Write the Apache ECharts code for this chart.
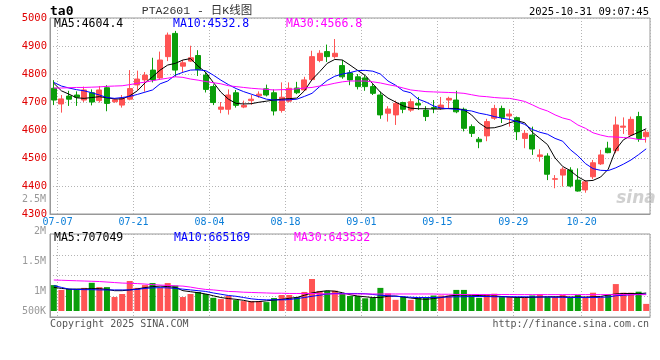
<!DOCTYPE html>
<html><head><meta charset="utf-8">
<script src="https://cdn.jsdelivr.net/npm/echarts@6/dist/echarts.min.js"></script>
<style>html,body{margin:0;padding:0;background:#fff}#c{width:660px;height:360px}</style>
</head><body><div id="c"></div>
<script>
const dates = ['07-07','07-08','07-09','07-10','07-11','07-14','07-15','07-16','07-17','07-18',
'07-21','07-22','07-23','07-24','07-25','07-28','07-29','07-30','07-31','08-01',
'08-04','08-05','08-06','08-07','08-08','08-11','08-12','08-13','08-14','08-15',
'08-18','08-19','08-20','08-21','08-22','08-25','08-26','08-27','08-28','08-29',
'09-01','09-02','09-03','09-04','09-05','09-08','09-09','09-10','09-11','09-12',
'09-15','09-16','09-17','09-18','09-19','09-22','09-23','09-24','09-25','09-26',
'09-29','09-30','10-09','10-10','10-13','10-14','10-15','10-16','10-17','10-20',
'10-21','10-22','10-23','10-24','10-27','10-28','10-29','10-30','10-31'];
const labeledDates = ['07-07','07-21','08-04','08-18','09-01','09-15','09-29','10-20'];

const opens = [4749,4693,4721,4725,4707,4733,4705,4751,4701,4689,
4710,4761,4779,4814,4786,4862,4945,4828,4846,4866,
4796,4755,4674,4674,4733,4682,4705,4722,4747,4733,
4670,4703,4750,4743,4780,4848,4880,4862,4830,4804,
4790,4786,4755,4725,4660,4654,4698,4671,4695,4671,
4680,4677,4707,4707,4674,4612,4567,4579,4642,4677,
4650,4644,4570,4582,4505,4507,4424,4439,4457,4421,
4386,4433,4479,4535,4526,4610,4582,4648,4576];
const closes = [4707,4711,4710,4717,4743,4700,4743,4695,4708,4713,
4748,4782,4796,4779,4850,4939,4814,4840,4858,4815,
4745,4698,4682,4725,4688,4688,4710,4728,4725,4668,
4717,4749,4733,4779,4862,4874,4862,4874,4790,4779,
4755,4755,4731,4654,4675,4695,4674,4701,4689,4648,
4677,4689,4713,4665,4606,4588,4558,4630,4677,4645,
4657,4594,4588,4532,4511,4442,4426,4460,4400,4382,
4415,4483,4511,4519,4618,4614,4638,4570,4592];
const lows = [4689,4662,4686,4686,4700,4688,4698,4667,4697,4680,
4706,4743,4737,4770,4780,4846,4790,4807,4843,4793,
4734,4689,4660,4655,4680,4678,4690,4715,4720,4652,
4662,4698,4728,4740,4776,4842,4843,4855,4783,4760,
4745,4740,4725,4640,4630,4618,4660,4665,4672,4632,
4660,4672,4677,4660,4595,4575,4535,4560,4636,4625,
4612,4564,4535,4511,4487,4421,4392,4398,4395,4380,
4376,4425,4475,4517,4517,4586,4579,4558,4555];
const highs = [4778,4725,4740,4738,4755,4745,4757,4760,4714,4725,
4814,4812,4807,4858,4880,4948,4954,4850,4901,4885,
4808,4763,4700,4745,4743,4705,4725,4738,4762,4745,
4770,4770,4772,4790,4883,4885,4905,4925,4850,4814,
4800,4795,4765,4737,4685,4705,4701,4712,4718,4685,
4707,4718,4719,4740,4680,4620,4575,4640,4690,4687,
4674,4648,4600,4612,4531,4517,4439,4467,4467,4463,
4421,4493,4529,4558,4648,4645,4648,4665,4600];

const ma5 = [4767,4740,4728,4715,4713,4716,4719,4715,4711,4711,
4722,4740,4768,4790,4814,4832,4838,4850,4855,4828,
4806,4770,4735,4710,4695,4693,4694,4699,4703,4707,
4710,4712,4714,4740,4780,4808,4838,4852,4850,4832,
4813,4795,4765,4735,4714,4700,4686,4678,4676,4676,
4675,4675,4677,4677,4672,4654,4625,4607,4608,4615,
4626,4633,4626,4592,4570,4548,4500,4470,4455,4433,
4418,4420,4432,4460,4530,4565,4580,4592,4604.4];
const ma10 = [4770,4757,4750,4744,4740,4733,4725,4716,4713,4716,
4720,4727,4735,4743,4765,4775,4796,4806,4814,4815,
4812,4796,4778,4762,4748,4737,4728,4719,4710,4707,
4707,4708,4710,4720,4731,4755,4777,4792,4800,4805,
4812,4813,4810,4800,4775,4760,4740,4733,4710,4700,
4686,4678,4676,4674,4671,4668,4660,4655,4648,4642,
4638,4630,4620,4602,4592,4585,4570,4560,4530,4508,
4480,4462,4456,4455,4465,4478,4493,4512,4532.8];
const ma30 = [4750,4750,4751,4752,4752,4753,4754,4756,4757,4758,
4762,4767,4771,4776,4781,4785,4790,4788,4782,4778,
4773,4769,4765,4758,4755,4752,4749,4747,4745,4743,
4744,4745,4747,4750,4752,4757,4761,4767,4772,4775,
4775,4775,4772,4768,4762,4757,4750,4743,4740,4737,
4736,4735,4734,4733,4731,4726,4721,4719,4716,4714,
4713,4708,4702,4690,4677,4668,4654,4643,4636,4618,
4606,4590,4582,4576,4575,4573,4571,4566,4566.8];

const volumes = [1020000,830000,870000,870000,910000,1110000,940000,940000,550000,670000,
1180000,910000,1020000,1100000,910000,1100000,1000000,550000,670000,750000,
670000,520000,470000,600000,430000,390000,390000,390000,350000,510000,
630000,630000,550000,750000,1260000,790000,790000,800000,670000,590000,
590000,500000,520000,910000,690000,440000,560000,440000,520000,520000,
610000,610000,610000,830000,830000,610000,520000,660000,680000,550000,
550000,530000,530000,610000,660000,550000,550000,630000,540000,630000,
540000,720000,540000,630000,1060000,720000,720000,760000,280000];
const volMa5 = [930000,890000,860000,860000,870000,880000,880000,850000,800000,800000,
830000,870000,920000,960000,980000,960000,930000,800000,760000,720000,
670000,600000,530000,490000,460000,420000,360000,370000,400000,430000,
460000,500000,530000,620000,710000,760000,800000,780000,720000,640000,
590000,560000,530000,530000,580000,590000,550000,510000,480000,460000,
490000,530000,590000,620000,630000,620000,610000,590000,590000,570000,
550000,530000,530000,540000,550000,560000,560000,560000,550000,550000,
550000,560000,570000,630000,670000,690000,690000,680000,707049];
const volMa10 = [1000000,930000,860000,850000,840000,840000,830000,830000,830000,830000,
830000,850000,890000,910000,920000,910000,890000,860000,830000,800000,
770000,710000,660000,610000,580000,530000,480000,450000,440000,440000,
440000,450000,490000,530000,580000,620000,670000,690000,690000,690000,
690000,680000,650000,620000,600000,580000,560000,540000,530000,530000,
530000,540000,550000,560000,560000,570000,570000,570000,560000,560000,
560000,560000,560000,550000,550000,550000,540000,540000,530000,530000,
530000,530000,540000,550000,600000,620000,640000,650000,665169];
const volMa30 = [1220000,1210000,1200000,1190000,1180000,1170000,1160000,1140000,1120000,1100000,
1090000,1080000,1060000,1040000,1020000,1010000,990000,980000,940000,890000,
850000,830000,800000,770000,760000,740000,730000,720000,710000,700000,
700000,690000,690000,690000,690000,680000,670000,670000,670000,670000,
670000,670000,670000,670000,670000,670000,670000,670000,670000,670000,
670000,660000,660000,650000,650000,650000,650000,650000,650000,650000,
650000,645000,645000,645000,645000,645000,645000,645000,645000,645000,
645000,645000,645000,645000,645000,645000,644000,644000,643532];

const priceMin = 4300, priceMax = 5000, priceStep = 100;
const volTickValues = [500000,1000000,1500000,2000000,2500000];
const volTickLabels = ['500K','1M','1.5M','2M','2.5M'];
const titleText = 'PTA2601 - 日K线图';
const stampText = '2025-10-31 09:07:45';

const MONO = '"DejaVu Sans Mono", "Liberation Mono", monospace';
const UP = '#ff5454', DOWN = '#0a9e0a';
const GRIDC = '#b4b4b4', AXC = '#999';

const labeledIdx = labeledDates.map(d => dates.indexOf(d));
const last = a => a[a.length - 1];

const chart = echarts.init(document.getElementById('c'), null, {renderer: 'canvas'});
const dotted = {color: GRIDC, type: [1, 2], width: 1};
const volOffsets = {'500K': 0, '1M': 8, '1.5M': 6, '2M': 4, '2.5M': 0};
const richBase = {color: '#999', fontFamily: MONO, fontSize: 10};

function txt(x, y, text, color, size, align, extra) {
  return {
    type: 'text', x: x, y: y, silent: true, z: 100,
    style: Object.assign({text: text, fill: color, font: size + 'px ' + MONO,
      align: align || 'left', verticalAlign: 'middle',
      textAlign: align || 'left', textVerticalAlign: 'middle'}, extra || {})
  };
}

chart.setOption({
  animation: false,
  backgroundColor: '#fff',
  grid: [
    {left: 50, right: 10, top: 18, height: 196, show: true, borderColor: AXC, borderWidth: 1},
    {left: 50, right: 10, top: 234, height: 83, show: true, borderColor: AXC, borderWidth: 1},
    {left: 50, right: 10, top: 199, height: 112, show: false}
  ],
  xAxis: [
    {type: 'category', gridIndex: 0, data: dates, boundaryGap: true,
     axisLine: {show: true, onZero: false, lineStyle: {color: AXC}}, axisTick: {show: false},
     axisLabel: {interval: (i, v) => labeledDates.indexOf(v) >= 0, color: '#0b7ed8',
       fontFamily: MONO, fontSize: 10, margin: 3, padding: [0, 0, 0, 7.6]},
     splitLine: {show: true, interval: (i) => labeledIdx.indexOf(i - 1) >= 0, lineStyle: dotted}},
    {type: 'category', gridIndex: 1, data: dates, boundaryGap: true,
     axisLine: {show: true, onZero: false, lineStyle: {color: AXC}}, axisTick: {show: false},
     axisLabel: {show: false},
     splitLine: {show: true, interval: (i) => labeledIdx.indexOf(i - 1) >= 0, lineStyle: dotted}},
    {type: 'category', gridIndex: 2, data: dates, show: false}
  ],
  yAxis: [
    {type: 'value', gridIndex: 0, min: priceMin, max: priceMax, interval: priceStep,
     axisLine: {show: true, lineStyle: {color: AXC}}, axisTick: {show: false},
     axisLabel: {color: '#e00000', fontFamily: MONO, fontSize: 10.5, margin: 3,
       formatter: v => String(v)},
     splitLine: {show: true, lineStyle: dotted}},
    {type: 'value', gridIndex: 1, min: -236000, max: 3031000,
     axisLine: {show: true, lineStyle: {color: AXC}}, axisTick: {show: false},
     axisLabel: {show: false}, splitLine: {show: false}},
    {type: 'value', gridIndex: 1, min: 0, max: 4, interval: 1,
     axisLine: {show: false}, axisTick: {show: false}, axisLabel: {show: false},
     splitLine: {show: true, lineStyle: dotted}},
    {type: 'value', gridIndex: 2, min: volTickValues[0], max: last(volTickValues),
     interval: volTickValues[1] - volTickValues[0],
     axisLine: {show: false}, axisTick: {show: false}, splitLine: {show: false},
     axisLabel: {margin: 4, showMinLabel: true, showMaxLabel: true,
       formatter: v => {
         const lb = volTickLabels[volTickValues.indexOf(v)];
         if (!lb) return '';
         return '{o' + volOffsets[lb] + '|' + lb + '}';
       },
       rich: {
         o0: Object.assign({padding: [0, 0, 0, 0]}, richBase),
         o4: Object.assign({padding: [8, 0, 0, 0]}, richBase),
         o6: Object.assign({padding: [12, 0, 0, 0]}, richBase),
         o8: Object.assign({padding: [16, 0, 0, 0]}, richBase)
       }}}
  ],
  series: [
    {type: 'candlestick', xAxisIndex: 0, yAxisIndex: 0, barWidth: 5.5,
     data: opens.map((o, i) => [o, closes[i], lows[i], highs[i]]),
     itemStyle: {color: UP, color0: DOWN, borderColor: UP, borderColor0: DOWN, borderWidth: 1}, z: 2},
    {type: 'line', xAxisIndex: 0, yAxisIndex: 0, data: ma5, symbol: 'none', lineStyle: {color: '#000', width: 1}, z: 4},
    {type: 'line', xAxisIndex: 0, yAxisIndex: 0, data: ma10, symbol: 'none', lineStyle: {color: '#0000ff', width: 1}, z: 4},
    {type: 'line', xAxisIndex: 0, yAxisIndex: 0, data: ma30, symbol: 'none', lineStyle: {color: '#ff00ff', width: 1}, z: 4},
    {type: 'bar', xAxisIndex: 1, yAxisIndex: 1, barWidth: 6,
     data: volumes.map((v, i) => ({value: v, itemStyle: {color: closes[i] >= opens[i] ? UP : DOWN}})), z: 2},
    {type: 'line', xAxisIndex: 1, yAxisIndex: 1, data: volMa5, symbol: 'none', lineStyle: {color: '#000', width: 1}, z: 4},
    {type: 'line', xAxisIndex: 1, yAxisIndex: 1, data: volMa10, symbol: 'none', lineStyle: {color: '#0000ff', width: 1}, z: 4},
    {type: 'line', xAxisIndex: 1, yAxisIndex: 1, data: volMa30, symbol: 'none', lineStyle: {color: '#ff00ff', width: 1}, z: 4}
  ],
  graphic: [
    txt(50, 12, 'ta0', '#000', 13, 'left', {font: 'bold 13px ' + MONO}),
    txt(197, 11, titleText, '#333', 11.5, 'center', {font: '11.5px "Liberation Mono", "Noto Sans CJK SC", monospace'}),
    txt(649, 12, stampText, '#000', 10.5, 'right'),
    txt(54, 24, 'MA5:' + last(ma5).toFixed(1), '#000', 11.5),
    txt(173, 24, 'MA10:' + last(ma10).toFixed(1), '#0000ff', 11.5),
    txt(286, 24, 'MA30:' + last(ma30).toFixed(1), '#ff00ff', 11.5),
    txt(54, 238, 'MA5:' + Math.round(last(volMa5)), '#000', 11.5),
    txt(174, 238, 'MA10:' + Math.round(last(volMa10)), '#0000ff', 11.5),
    txt(294, 238, 'MA30:' + Math.round(last(volMa30)), '#ff00ff', 11.5),
    txt(50, 324, 'Copyright 2025 SINA.COM', '#555', 10),
    txt(649, 324, 'http://finance.sina.com.cn', '#555', 10, 'right'),
    txt(636, 199, 'sina', 'rgba(170,170,170,0.55)', 17, 'center', {font: 'italic bold 17px "DejaVu Sans", sans-serif'})
  ]
});
</script>
</body></html>
